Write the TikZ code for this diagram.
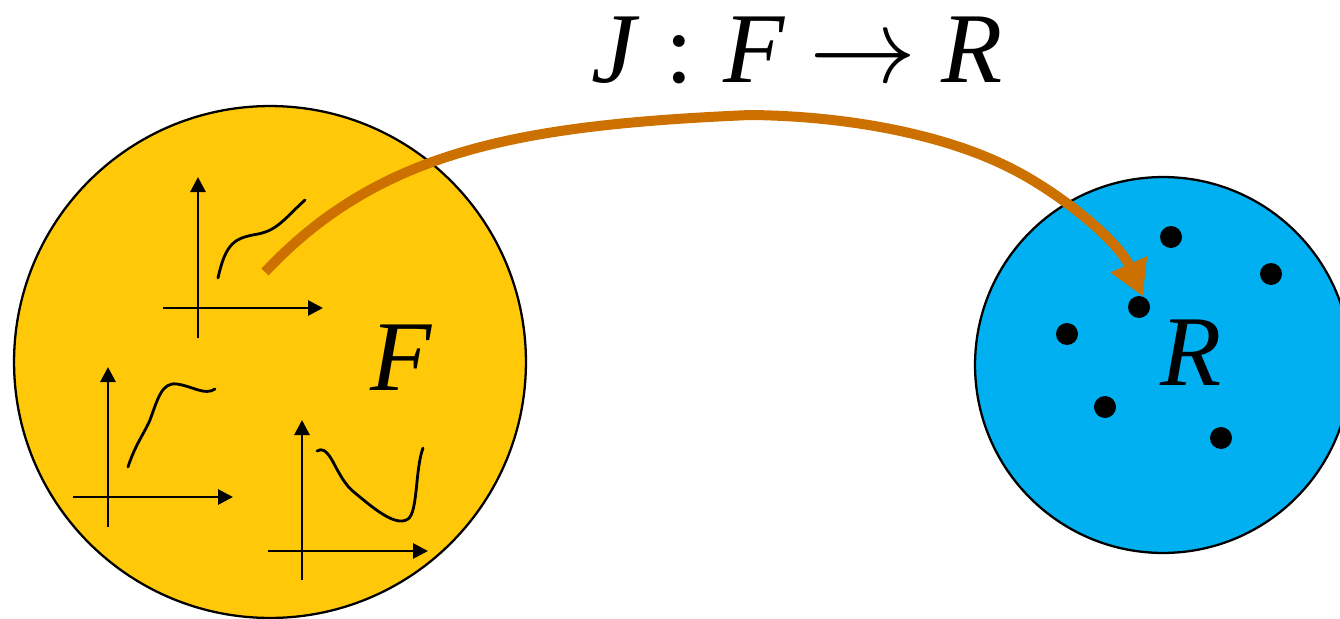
\documentclass[tikz,border=0pt]{standalone}
\usepackage{fontspec}
\newfontfamily\tit{LiberationSerif-Italic}[Extension=.ttf]
\newfontfamily\trm{LiberationSerif-Regular}[Extension=.ttf]
\usetikzlibrary{arrows.meta}
\definecolor{gold}{RGB}{255,201,10}
\definecolor{sky}{RGB}{0,176,240}
\definecolor{arrowor}{RGB}{204,112,0}
\begin{document}
\begin{tikzpicture}[x=0.02cm,y=-0.02cm,
 setcircle/.style={circle, draw=black, line width=1.3pt, inner sep=0},
 dot/.style={circle, fill=black, minimum size=0.44cm, inner sep=0},
 axis/.style={line width=1.6pt, -{Triangle[length=0.3cm,width=0.3cm]}},
 fcurve/.style={line width=1.6pt, line cap=round},
 bigtext/.style={font=\fontsize{57}{60}\selectfont, inner sep=0, anchor=base},
]
\useasboundingbox (0,0) rectangle (1340,619);
% sets
\node[setcircle, fill=gold, minimum size=10.24cm] (Fset) at (270,362) {};
\node[setcircle, fill=sky, minimum size=7.52cm] (Rset) at (1163,365) {};
% labels
\node[bigtext] (Flabel) at (401,390) {\tit\fontsize{57}{60}\selectfont F};
\node[bigtext] (Rlabel) at (1191,385) {\tit\fontsize{57}{60}\selectfont R};
\node[bigtext] (title) at (797,82) {{\tit\fontsize{57}{60}\selectfont J}\hspace{0.3em}{\trm\fontsize{57}{60}\selectfont :}\hspace{0.3em}{\tit\fontsize{57}{60}\selectfont F}\hspace{0.25em}\scalebox{2.45}{$\rightarrow$}\hspace{0.25em}{\tit\fontsize{57}{60}\selectfont R}};
% graph 1
\draw[axis] (163,308) -- (323,308);
\draw[axis] (198,338) -- (198,177);
\draw[fcurve] (218,278) .. controls (226,242) and (235,238) .. (258,234) .. controls (278,230) and (285,218) .. (305,200);
% graph 2
\draw[axis] (73,497) -- (233,497);
\draw[axis] (108,527) -- (108,367);
\draw[fcurve] (128,467) .. controls (135,445) and (145,432) .. (150,420) .. controls (158,398) and (162,382) .. (177,384) .. controls (192,386) and (205,396) .. (215,389);
% graph 3
\draw[axis] (268,551) -- (428,551);
\draw[axis] (302,580) -- (302,420);
\draw[fcurve] (317,451) .. controls (322,448) and (326,450) .. (332,460) .. controls (340,475) and (345,485) .. (355,493) .. controls (370,505) and (395,528) .. (408,519) .. controls (418,512) and (415,470) .. (423,448);
% points
\node[dot] (d1) at (1171,237) {};
\node[dot] (d2) at (1271,274) {};
\node[dot] (d3) at (1139,307) {};
\node[dot] (d4) at (1067,334) {};
\node[dot] (d5) at (1105,407) {};
\node[dot] (d6) at (1221,438) {};
% map arrow
\coordinate (start) at (265,272);
\coordinate (top) at (750,115);
\coordinate (bend) at (1000,163);
\draw[line width=0.2cm, draw=arrowor, -{Triangle[length=0.7cm,width=0.75cm]}]
  (start) .. controls (380,150) and (520,125) .. (top)
  .. controls (850,116) and (940,135) .. (bend)
  .. controls (1055,188) and (1118,240) .. (d3.70);
\end{tikzpicture}
\end{document}
